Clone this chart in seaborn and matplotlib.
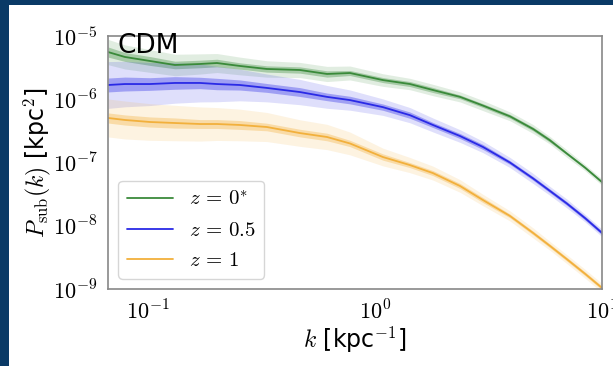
import numpy as np
import pandas as pd
import matplotlib
matplotlib.use("Agg")
import matplotlib.pyplot as plt
import seaborn as sns
from matplotlib.patches import Rectangle
from matplotlib.ticker import FuncFormatter, LogLocator

# wavenumbers k [kpc^-1]
k = [0.0667, 0.0792, 0.102, 0.1315, 0.1695, 0.2014, 0.254, 0.334, 0.467, 0.615, 0.776,
     1.084, 1.426, 1.80, 2.37, 2.99, 3.93, 4.97, 5.90, 7.01, 8.42, 10.0]

# P_sub(k) [kpc^2]
p_z0 = [5.58e-6, 4.66e-6, 4.03e-6, 3.48e-6, 3.61e-6, 3.74e-6, 3.36e-6, 3.01e-6, 2.90e-6, 2.51e-6, 2.60e-6,
        2.01e-6, 1.74e-6, 1.40e-6, 1.09e-6, 7.94e-7, 5.37e-7, 3.39e-7, 2.24e-7, 1.38e-7, 8.3e-8, 4.9e-8]
p_z05 = [1.68e-6, 1.74e-6, 1.74e-6, 1.81e-6, 1.81e-6, 1.74e-6, 1.68e-6, 1.51e-6, 1.30e-6, 1.09e-6, 9.7e-7,
         7.5e-7, 5.6e-7, 3.92e-7, 2.62e-7, 1.76e-7, 1.0e-7, 5.6e-8, 3.55e-8, 2.24e-8, 1.32e-8, 7.7e-9]
p_z1 = [5.06e-7, 4.70e-7, 4.37e-7, 4.21e-7, 4.06e-7, 4.06e-7, 3.92e-7, 3.64e-7, 2.92e-7, 2.53e-7, 2.0e-7,
        1.22e-7, 9.1e-8, 6.8e-8, 4.25e-8, 2.55e-8, 1.43e-8, 7.7e-9, 4.8e-9, 2.95e-9, 1.74e-9, 1.04e-9]

# band half-widths in dex (inner / outer)
in_z0 = [0.08, 0.07, 0.07, 0.06, 0.06, 0.06, 0.05, 0.05, 0.05, 0.05, 0.04,
         0.04, 0.04, 0.04, 0.03, 0.03, 0.03, 0.03, 0.03, 0.02, 0.02, 0.02]
out_z0 = [0.20, 0.19, 0.18, 0.17, 0.16, 0.15, 0.14, 0.13, 0.12, 0.12, 0.11,
          0.10, 0.09, 0.09, 0.08, 0.08, 0.07, 0.07, 0.06, 0.06, 0.05, 0.05]
in_z05 = [0.11, 0.11, 0.10, 0.10, 0.09, 0.09, 0.08, 0.07, 0.07, 0.06, 0.06,
          0.05, 0.05, 0.04, 0.04, 0.04, 0.03, 0.03, 0.03, 0.03, 0.03, 0.03]
out_z05 = [0.37, 0.36, 0.34, 0.32, 0.30, 0.28, 0.25, 0.22, 0.20, 0.18, 0.16,
           0.13, 0.12, 0.11, 0.10, 0.09, 0.08, 0.08, 0.07, 0.07, 0.06, 0.06]
in_z1 = [0.08, 0.08, 0.08, 0.08, 0.07, 0.07, 0.07, 0.06, 0.06, 0.06, 0.05,
         0.05, 0.04, 0.04, 0.04, 0.04, 0.03, 0.03, 0.03, 0.03, 0.03, 0.03]
out_z1 = [0.30, 0.30, 0.29, 0.28, 0.27, 0.26, 0.25, 0.23, 0.21, 0.20, 0.18,
          0.14, 0.12, 0.11, 0.10, 0.09, 0.08, 0.08, 0.07, 0.07, 0.07, 0.07]

labels = [r"$z\,=\,0^{*}$", r"$z\,=\,0.5$", r"$z\,=\,1$"]
colors = ["#3a8a3a", "#2a2ae6", "#f2b03c"]

sns.set_style("white")
plt.rcParams["mathtext.fontset"] = "cm"
plt.rcParams["font.family"] = ["DejaVu Sans"]
plt.rcParams["text.color"] = "black"
plt.rcParams["axes.labelcolor"] = "black"
plt.rcParams["xtick.color"] = "black"
plt.rcParams["ytick.color"] = "black"

df = pd.concat([
    pd.DataFrame({"k": k, "P": p, "z": lab})
    for p, lab in zip([p_z0, p_z05, p_z1], labels)
])

fig = plt.figure(figsize=(6.13, 3.66), dpi=100)
fig.patch.set_facecolor("#0a3a66")
# white slide area behind the plot
fig.patches.append(Rectangle((9 / 613, 0), 1, (366 - 5) / 366, transform=fig.transFigure,
                             facecolor="white", edgecolor="none", zorder=-10))
ax = fig.add_axes([108 / 613, 77 / 366, 494 / 613, 253 / 366])
ax.set_zorder(5)

# shaded bands
for p, w1, w2, c in zip([p_z0, p_z05, p_z1], [in_z0, in_z05, in_z1], [out_z0, out_z05, out_z1], colors):
    p = np.array(p)
    ax.fill_between(k, p * 10 ** -np.array(w2), p * 10 ** np.array(w2), color=c, alpha=0.15, lw=0)
    ax.fill_between(k, p * 10 ** -np.array(w1), p * 10 ** np.array(w1), color=c, alpha=0.35, lw=0)

sns.lineplot(data=df, x="k", y="P", hue="z", palette=colors, lw=1.3, ax=ax)

ax.set_xscale("log")
ax.set_yscale("log")
ax.set_xlim(0.0667, 10)
ax.set_ylim(1e-9, 1e-5)

fmt = FuncFormatter(lambda v, pos: r"$10^{%d}$" % round(np.log10(v)))
ax.xaxis.set_major_formatter(fmt)
ax.yaxis.set_major_formatter(fmt)
ax.yaxis.set_minor_locator(LogLocator(subs=np.arange(2, 10)))

for s in ax.spines.values():
    s.set_color("#888888")
    s.set_linewidth(1.2)
ax.tick_params(which="both", direction="out", color="#888888", labelcolor="black", labelsize=16)
ax.tick_params(which="major", length=4)
ax.tick_params(which="minor", length=2)

ax.set_xlabel(r"$k$ [kpc$^{-1}$]", fontsize=17, labelpad=1)
ax.set_ylabel(r"$P_{\rm sub}(k)$ [kpc$^{2}$]", fontsize=17, labelpad=0)
ax.text(0.02, 1.012, "CDM", transform=ax.transAxes, fontsize=19, va="top", ha="left", color="black")

ax.legend(loc="lower left", fontsize=15, title=None, handlelength=2.2)

plt.savefig("out.png", dpi=100, facecolor=fig.get_facecolor())
